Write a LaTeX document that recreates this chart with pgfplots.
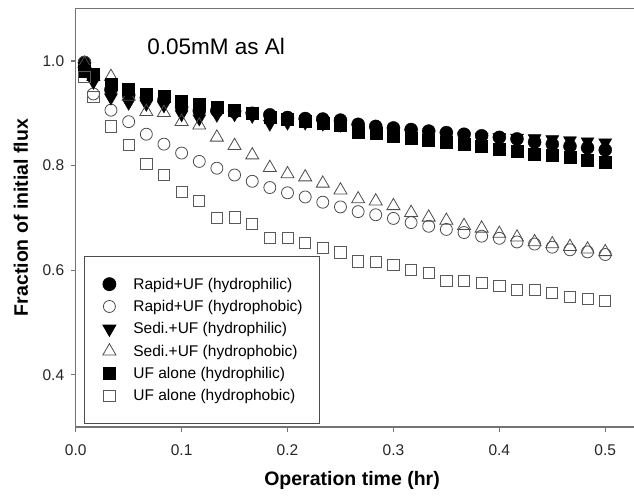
\documentclass[border=0pt]{standalone}
\usepackage{fontspec}
\setmainfont{Liberation Sans}
\usepackage{pgfplots}
\pgfplotsset{compat=1.18}
\usepackage{pgfplotstable}

\pgfplotstableread{
t      A     B     C     D     E     F
0.0083 0.997 0.998 0.990 0.995 0.980 0.970
0.0167 0.970 0.937 0.960 0.970 0.975 0.932
0.0333 0.945 0.906 0.930 0.970 0.955 0.875
0.0500 0.935 0.884 0.920 0.932 0.946 0.840
0.0667 0.930 0.860 0.918 0.903 0.937 0.804
0.0833 0.925 0.841 0.915 0.901 0.933 0.782
0.1000 0.912 0.824 0.898 0.884 0.924 0.750
0.1167 0.905 0.808 0.890 0.877 0.918 0.732
0.1333 0.905 0.795 0.897 0.854 0.912 0.700
0.1500 0.903 0.782 0.898 0.838 0.905 0.701
0.1667 0.900 0.770 0.895 0.820 0.900 0.688
0.1833 0.897 0.758 0.880 0.796 0.893 0.662
0.2000 0.892 0.748 0.882 0.784 0.888 0.662
0.2167 0.890 0.740 0.882 0.778 0.884 0.652
0.2333 0.889 0.730 0.880 0.766 0.881 0.643
0.2500 0.887 0.721 0.878 0.753 0.877 0.634
0.2667 0.879 0.712 0.872 0.736 0.864 0.617
0.2833 0.875 0.706 0.868 0.732 0.862 0.616
0.3000 0.872 0.699 0.865 0.723 0.857 0.610
0.3167 0.869 0.691 0.862 0.710 0.853 0.600
0.3333 0.866 0.684 0.860 0.701 0.849 0.595
0.3500 0.863 0.678 0.858 0.695 0.844 0.579
0.3667 0.860 0.672 0.856 0.685 0.841 0.579
0.3833 0.857 0.665 0.855 0.680 0.837 0.576
0.4000 0.854 0.661 0.854 0.670 0.832 0.570
0.4167 0.851 0.654 0.853 0.663 0.828 0.563
0.4333 0.845 0.650 0.852 0.654 0.822 0.562
0.4500 0.841 0.644 0.850 0.650 0.820 0.556
0.4667 0.837 0.639 0.848 0.645 0.816 0.549
0.4833 0.834 0.635 0.846 0.640 0.811 0.545
0.5000 0.830 0.630 0.844 0.635 0.806 0.541
}\data

\begin{document}
\begin{tikzpicture}
\path[use as bounding box] (-75.7pt,-69.9pt) rectangle (558.3pt,427.1pt);
\begin{axis}[
  at={(0,0)}, anchor=south west,
  scale only axis, width=561.3pt, height=418.4pt,
  xmin=0, xmax=0.53, ymin=0.3, ymax=1.1,
  axis line style={black!55, line width=1.3pt},
  tick style={black!55, line width=1.1pt},
  major tick length=5pt,
  tick align=outside,
  xtick pos=bottom, ytick pos=left,
  xtick={0,0.1,0.2,0.3,0.4,0.5},
  ytick={0.4,0.6,0.8,1.0},
  /pgf/number format/assume math mode=true,
  ticklabel style={font=\fontsize{15.5}{18}\selectfont, text=black!85},
  x tick label style={/pgf/number format/fixed, /pgf/number format/fixed zerofill, /pgf/number format/precision=1, yshift=-9pt},
  y tick label style={/pgf/number format/fixed, /pgf/number format/fixed zerofill, /pgf/number format/precision=1, xshift=-3pt},
  xlabel={Operation time (hr)},
  ylabel={Fraction of initial flux},
  xlabel style={at={(axis description cs:0.4923,-0.128)}, anchor=center, font=\bfseries\fontsize{19.5}{22}\selectfont},
  ylabel style={at={(axis description cs:-0.0975,0.501)}, anchor=center, font=\bfseries\fontsize{19.5}{22}\selectfont},
  legend cell align=left,
  legend image code/.code={\path[draw=none,fill=none] (0pt,0pt) -- (32pt,0pt); \draw[#1] plot coordinates {(10pt,0pt)};},
  legend style={at={(0.0148,0.408)}, anchor=north west, draw=black!70, line width=0.8pt,
    font=\fontsize{15.5}{18}\selectfont, inner xsep=15pt, inner ysep=19pt, row sep=5.6pt,
    /tikz/every even column/.style={column sep=22pt}},
]
\addplot[only marks, mark=*, mark size=6.5pt, black] table[x=t,y=A]{\data};
\addlegendentry{Rapid+UF (hydrophilic)}
\addplot[only marks, mark=o, mark size=6pt, black!70, line width=0.8pt] table[x=t,y=B]{\data};
\addlegendentry{Rapid+UF (hydrophobic)}
\addplot[only marks, mark=triangle*, mark size=7.5pt, mark options={rotate=180}, black] table[x=t,y=C]{\data};
\addlegendentry{Sedi.+UF (hydrophilic)}
\addplot[only marks, mark=triangle, mark size=7.5pt, black!70, line width=0.8pt] table[x=t,y=D]{\data};
\addlegendentry{Sedi.+UF (hydrophobic)}
\addplot[only marks, mark=square*, mark size=6pt, black] table[x=t,y=E]{\data};
\addlegendentry{UF alone (hydrophilic)}
\addplot[only marks, mark=square, mark size=5.6pt, black!65, line width=0.8pt] table[x=t,y=F]{\data};
\addlegendentry{UF alone (hydrophobic)}
\node[font=\fontsize{22.5}{26}\selectfont, anchor=center] at (axis cs:0.1325,1.027) {0.05mM as Al};
\end{axis}
\end{tikzpicture}
\end{document}
